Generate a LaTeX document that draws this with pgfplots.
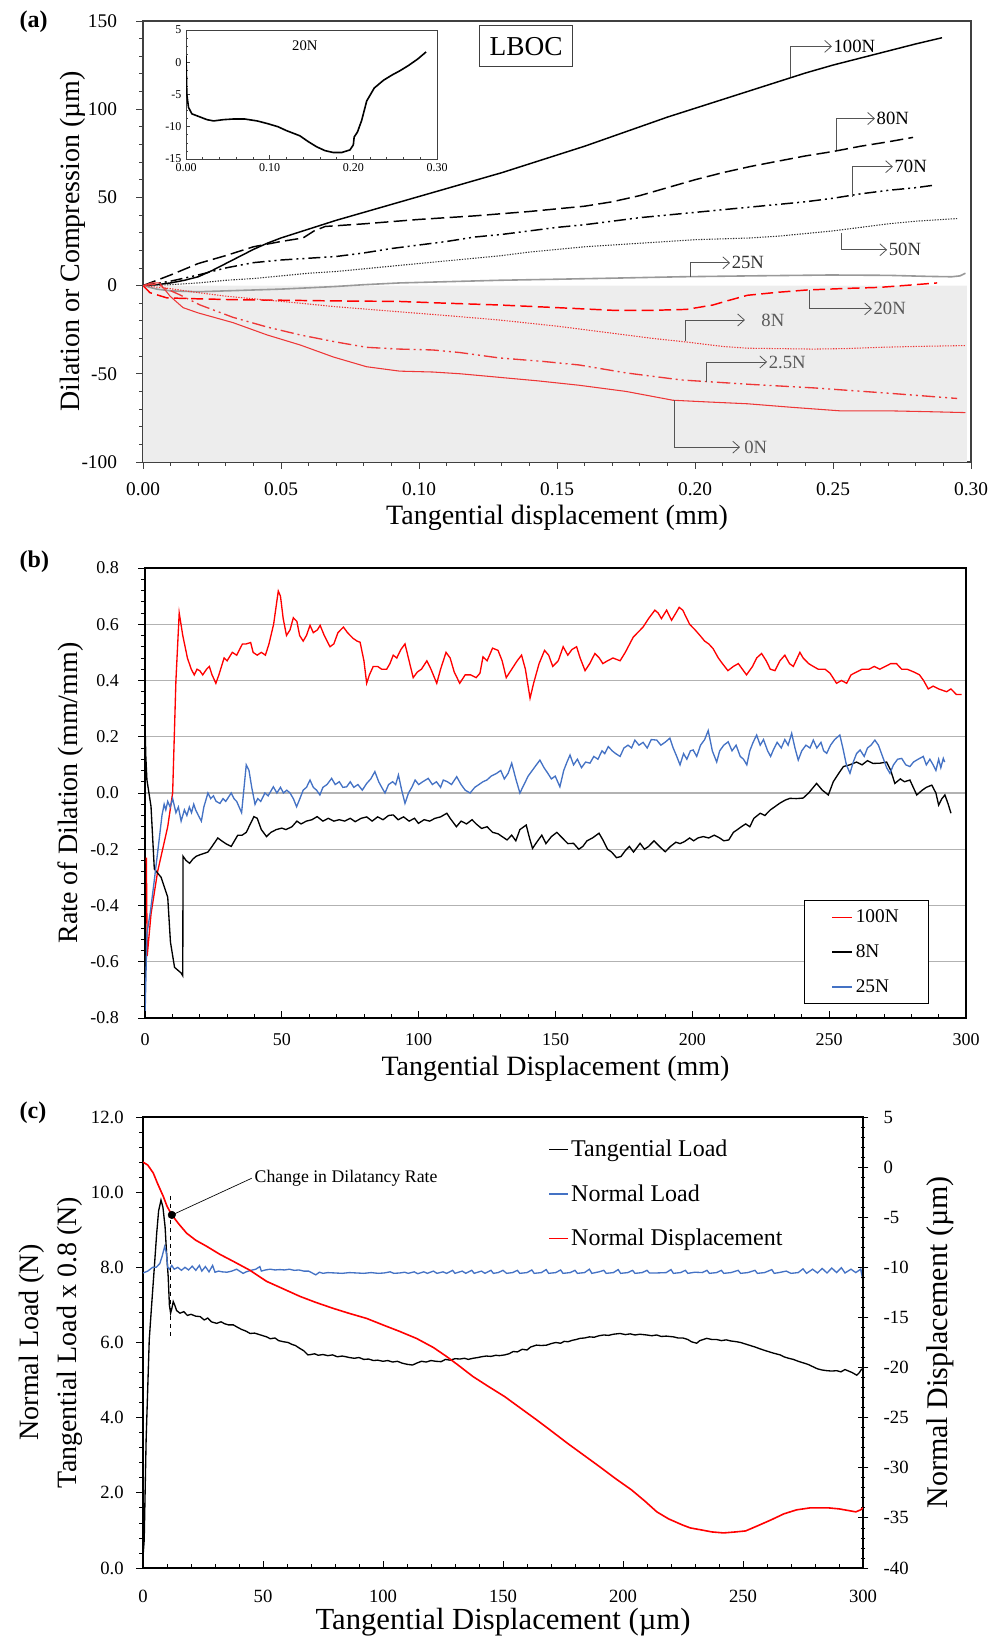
\documentclass[border=0pt]{standalone}
\usepackage{fontspec}
\setmainfont{Liberation Serif}
\usepackage{pgfplots}
\pgfplotsset{compat=1.18}
\usetikzlibrary{arrows.meta}
\definecolor{ared}{RGB}{238,55,55}
\definecolor{xblue}{RGB}{68,114,196}
\definecolor{annot}{RGB}{85,85,85}
\definecolor{shade}{RGB}{237,237,237}
\pgfkeys{/pgf/number format/assume math mode=true}
\tikzset{arr/.style={annot, line width=0.6pt, -{Straight Barb[length=5pt,width=9pt]}}}
\begin{document}
\begin{tikzpicture}
\useasboundingbox (0,0) rectangle (744pt,1230.75pt);
% ---------------- panel (a) ----------------
\begin{axis}[at={(107.25pt,884.25pt)}, anchor=south west, scale only axis,
  width=621pt, height=330.75pt,
  xmin=0, xmax=0.3, ymin=-100, ymax=150,
  xtick={0,0.05,0.1,0.15,0.2,0.25,0.3}, ytick={-100,-50,0,50,100,150},
  minor x tick num=4, minor y tick num=4,
  xtick pos=bottom, ytick pos=left, tick align=outside,
  major tick length=5pt, minor tick length=3pt,
  axis line style={line width=0.8pt, black!75},
  tick style={black!75, line width=0.6pt},
  scaled x ticks=false, scaled y ticks=false,
  x tick label style={/pgf/number format/.cd, fixed, fixed zerofill, precision=2, /tikz/.cd, font=\fontsize{14.5}{16}\selectfont, yshift=-7pt},
  y tick label style={font=\fontsize{14.5}{16}\selectfont, xshift=-11pt},
  xlabel={Tangential displacement (mm)}, ylabel={Dilation or Compression (µm)},
  label style={font=\fontsize{21}{24}\selectfont},
  xlabel style={at={(axis description cs:0.5,-0.127)}, anchor=center},
  ylabel style={at={(axis description cs:-0.0845,0.5)}, anchor=center},
]
\addplot[draw=none, fill=shade] coordinates {(0,0) (0.2985,0) (0.2985,-100) (0,-100) (0,0)};
% 100N
\addplot[black, line width=1.1pt] coordinates {(0,0)(0.005,0.5)(0.01,1.5)(0.015,3)(0.02,5)(0.025,8.5)(0.03,12.5)(0.035,16.5)(0.04,20.5)(0.045,24)(0.05,27)(0.055,29.5)(0.06,32)(0.07,37)(0.08,41.5)(0.09,46)(0.10,50.5)(0.11,55)(0.12,59.5)(0.13,64)(0.14,69)(0.15,74)(0.16,79)(0.17,84.5)(0.18,90)(0.19,95.5)(0.20,100.5)(0.21,105.5)(0.22,110.5)(0.23,115.5)(0.24,120.5)(0.25,125)(0.26,129)(0.27,133)(0.28,137)(0.2895,140.5)};
% 80N
\addplot[black, line width=1.1pt, dash pattern=on 10pt off 4pt] coordinates {(0,0)(0.005,3)(0.01,6)(0.02,12.5)(0.03,17)(0.04,22)(0.05,25)(0.056,26.5)(0.058,27)(0.062,31)(0.066,33.5)(0.08,35)(0.10,37.5)(0.12,39.5)(0.14,42)(0.16,45)(0.17,47.5)(0.18,51)(0.19,55.5)(0.20,60)(0.21,64)(0.22,67.5)(0.23,70.5)(0.24,73.5)(0.25,76)(0.26,79)(0.27,81.5)(0.279,84)};
% 70N
\addplot[black, line width=1.1pt, dash pattern=on 9pt off 3pt on 1.5pt off 3pt on 1.5pt off 3pt] coordinates {(0,0)(0.01,2.5)(0.02,6)(0.03,10)(0.04,13)(0.05,14.5)(0.06,15.5)(0.07,16.5)(0.08,18.5)(0.09,21)(0.10,23)(0.11,25)(0.12,27.5)(0.13,29)(0.14,31)(0.15,33)(0.16,34.5)(0.17,36.5)(0.18,38.5)(0.19,40)(0.20,41.5)(0.21,43)(0.22,44.5)(0.23,46)(0.24,47.5)(0.25,49.5)(0.26,52)(0.27,54)(0.28,55.5)(0.287,57)};
% 50N
\addplot[black!80, line width=0.8pt, dash pattern=on 1pt off 1pt] coordinates {(0,0)(0.01,0.5)(0.02,1.5)(0.03,3)(0.04,4)(0.05,5.5)(0.06,7)(0.07,8)(0.08,9.5)(0.09,11)(0.10,12.5)(0.11,14)(0.12,15.5)(0.13,17)(0.14,19)(0.15,20.5)(0.16,22)(0.17,23)(0.18,24)(0.19,25)(0.20,26)(0.21,26.5)(0.22,27)(0.23,28)(0.24,29.5)(0.25,31)(0.26,33)(0.27,35)(0.28,36.5)(0.295,38)};
% 25N
\addplot[black!40, line width=1.2pt] coordinates {(0,0)(0.005,-2)(0.01,-3)(0.02,-3.5)(0.03,-3)(0.04,-2.5)(0.05,-2)(0.057,-1.5)(0.07,-0.5)(0.08,0.5)(0.093,1.5)(0.11,2.2)(0.129,3)(0.15,3.6)(0.17,4.2)(0.195,5)(0.22,5.5)(0.249,6)(0.27,5.8)(0.285,5.2)(0.293,5)(0.296,5.5)(0.298,7)};
% 20N
\addplot[red, line width=1.1pt, dash pattern=on 9pt off 4pt] coordinates {(0,0)(0.0025,-4)(0.0087,-7)(0.02,-7.5)(0.033,-8)(0.05,-8.3)(0.07,-8.7)(0.093,-9)(0.11,-10)(0.129,-11)(0.15,-12.5)(0.17,-14)(0.185,-14)(0.197,-13.5)(0.2065,-11)(0.212,-8.5)(0.219,-5.5)(0.23,-3.8)(0.2405,-2.5)(0.255,-1.6)(0.267,-1)(0.278,0.3)(0.2877,1.5)};
% 8N
\addplot[ared, line width=0.8pt, dash pattern=on 1pt off 1pt] coordinates {(0,0)(0.0087,-1.5)(0.02,-4)(0.03,-6)(0.04,-7.5)(0.057,-10)(0.07,-12)(0.09,-14.5)(0.11,-17)(0.129,-19.5)(0.15,-23)(0.17,-27)(0.185,-30)(0.197,-32)(0.21,-34.5)(0.219,-35.5)(0.243,-36)(0.255,-35.7)(0.267,-35)(0.28,-34.5)(0.298,-34)};
% 2.5N
\addplot[ared, line width=1pt, dash pattern=on 10pt off 3pt on 1.5pt off 3pt on 1.5pt off 3pt] coordinates {(0,0)(0.005,1)(0.0087,-2)(0.013,-5)(0.0207,-11)(0.0326,-18)(0.045,-23.5)(0.057,-28)(0.07,-32)(0.081,-35)(0.093,-36)(0.105,-36.5)(0.115,-38)(0.129,-41)(0.145,-43)(0.158,-45)(0.175,-49.5)(0.195,-53.5)(0.22,-56)(0.243,-58)(0.27,-61)(0.295,-64)};
% 0N
\addplot[ared, line width=0.8pt] coordinates {(0,0)(0.003,1.5)(0.006,1.5)(0.0098,-6)(0.0145,-12.5)(0.02,-15.5)(0.0326,-21)(0.045,-28)(0.057,-33.7)(0.069,-40.5)(0.081,-46)(0.093,-48.5)(0.105,-49)(0.115,-50)(0.129,-52)(0.143,-54)(0.158,-56.5)(0.175,-60)(0.192,-65)(0.205,-66)(0.219,-67)(0.235,-69)(0.2525,-71)(0.27,-71)(0.285,-71.5)(0.298,-72)};
% annotations
\begin{scope}[font=\fontsize{14}{16}\selectfont]
\draw[arr] (axis cs:0.2344,118) -- (axis cs:0.2344,135.6) -- (axis cs:0.2496,135.6) node[right, inner sep=1pt, text=black] {100N};
\draw[arr] (axis cs:0.2511,77.1) -- (axis cs:0.2511,94.7) -- (axis cs:0.2652,94.7) node[right, inner sep=1pt, text=black] {80N};
\draw[arr] (axis cs:0.2569,50.4) -- (axis cs:0.2569,67.4) -- (axis cs:0.2717,67.4) node[right, inner sep=1pt, text=black] {70N};
\draw[arr] (axis cs:0.2529,29.9) -- (axis cs:0.2529,20.3) -- (axis cs:0.2696,20.3) node[right, inner sep=1pt, text=black!80] {50N};
\draw[arr] (axis cs:0.1982,4.9) -- (axis cs:0.1982,12.9) -- (axis cs:0.2127,12.9) node[right, inner sep=1pt, text=black!80] {25N};
\draw[arr] (axis cs:0.2413,-2.4) -- (axis cs:0.2413,-13.2) -- (axis cs:0.2641,-13.2) node[right, inner sep=1pt, text=black!65] {20N};
\draw[arr] (axis cs:0.1964,-31.4) -- (axis cs:0.1964,-19.5) -- (axis cs:0.2181,-19.5);
\node[right, inner sep=1pt, text=black!65] at (axis cs:0.2235,-19.5) {8N};
\draw[arr] (axis cs:0.2043,-54.7) -- (axis cs:0.2043,-43.3) -- (axis cs:0.2261,-43.3) node[right, inner sep=1pt, text=black!65] {2.5N};
\draw[arr] (axis cs:0.1924,-64.9) -- (axis cs:0.1924,-91.6) -- (axis cs:0.2163,-91.6) node[right, inner sep=3pt, text=black!65] {0N};
\end{scope}
\node[draw=black!75, line width=0.6pt, fill=white, minimum width=70pt, minimum height=30.75pt, font=\fontsize{20.5}{24}\selectfont] at (axis cs:0.1388,135.6) {LBOC};
\end{axis}
% inset
\begin{axis}[at={(139.5pt,1111.5pt)}, anchor=south west, scale only axis,
  width=188.25pt, height=96.75pt,
  xmin=0, xmax=0.3, ymin=-15, ymax=5,
  xtick={0,0.1,0.2,0.3}, ytick={-15,-10,-5,0,5},
  minor x tick num=4, minor y tick num=3,
  xtick pos=bottom, ytick pos=left, tick align=inside,
  major tick length=3pt, minor tick length=1.8pt,
  axis background/.style={fill=white},
  axis line style={line width=0.6pt, black!75},
  tick style={black!75, line width=0.5pt},
  scaled x ticks=false,
  x tick label style={/pgf/number format/.cd, fixed, fixed zerofill, precision=2, /tikz/.cd, font=\fontsize{9}{10}\selectfont},
  y tick label style={font=\fontsize{9}{10}\selectfont},
]
\addplot[black, line width=1.2pt] coordinates {(0,1)(0.001,-5)(0.003,-7)(0.007,-8)(0.015,-8.4)(0.025,-8.9)(0.033,-9.1)(0.045,-8.9)(0.057,-8.8)(0.07,-8.8)(0.085,-9.1)(0.097,-9.5)(0.11,-10)(0.12,-10.6)(0.136,-11.4)(0.146,-12.3)(0.156,-13.1)(0.166,-13.7)(0.176,-14)(0.186,-14)(0.196,-13.6)(0.2,-12.8)(0.201,-11.6)(0.205,-10.8)(0.21,-9)(0.216,-6)(0.225,-4)(0.236,-2.8)(0.246,-2)(0.256,-1.3)(0.266,-0.5)(0.277,0.5)(0.287,1.6)};
\node[font=\fontsize{11}{12}\selectfont] at (axis cs:0.142,2.6) {20N};
\end{axis}
% ---------------- panel (b) ----------------
\begin{axis}[at={(108.75pt,467.25pt)}, anchor=south west, scale only axis,
  width=615.75pt, height=337.5pt,
  xmin=0, xmax=300, ymin=-0.8, ymax=0.8,
  xtick=\empty, ytick={-0.8,-0.6,-0.4,-0.2,0,0.2,0.4,0.6,0.8},
  minor y tick num=4,
  ytick pos=left, tick align=outside,
  major tick length=5pt, minor tick length=3pt,
  ymajorgrids, grid style={black!30, line width=0.8pt},
  axis line style={line width=0.9pt, black},
  tick style={black, line width=0.6pt},
  scaled y ticks=false,
  y tick label style={/pgf/number format/.cd, fixed, fixed zerofill, precision=1, /tikz/.cd, font=\fontsize{13.5}{16}\selectfont, xshift=-11pt},
  xlabel={Tangential Displacement (mm)}, ylabel={Rate of Dilation (mm/mm)},
  label style={font=\fontsize{21}{25}\selectfont},
  xlabel style={at={(axis description cs:0.5,-0.113)}, anchor=center},
  ylabel style={at={(axis description cs:-0.090,0.5)}, anchor=center},
  legend style={at={(axis description cs:0.8027,0.262)}, anchor=north west, draw=black, line width=0.6pt, fill=white,
    font=\fontsize{14.5}{17}\selectfont, inner xsep=20.5pt, inner ysep=5pt, row sep=11pt},
  legend cell align=left,
  legend image code/.code={\draw[#1] (0pt,0pt) -- (15pt,0pt);},
]
\addplot[red, line width=1pt] coordinates {(0.5,-0.23)(0.8,-0.58)(2.2,-0.43)(4.6,-0.28)(8.3,-0.12)(10.1,0.0)(11.3,0.40)(12.5,0.64)(13.8,0.56)(15.5,0.48)(16.9,0.44)(18,0.42)(19,0.44)(20,0.435)(21.1,0.42)(22.5,0.44)(23.5,0.45)(24.5,0.42)(25.9,0.39)(27,0.42)(28.9,0.48)(30,0.47)(31.9,0.50)(33.5,0.49)(35.6,0.53)(37,0.53)(38.6,0.535)(39.5,0.50)(41,0.49)(42.5,0.50)(44,0.49)(45.3,0.53)(47,0.60)(48.7,0.718)(49.5,0.70)(50.5,0.62)(51.7,0.56)(53,0.58)(54.2,0.623)(55.5,0.61)(56.5,0.56)(57.8,0.54)(59,0.56)(60.3,0.596)(61.5,0.57)(63,0.58)(64,0.596)(65.5,0.56)(67.6,0.52)(69,0.53)(70.5,0.57)(72.5,0.59)(74,0.57)(76,0.55)(77.5,0.54)(78.6,0.536)(80,0.47)(81,0.39)(82,0.42)(83.4,0.45)(85,0.45)(86.5,0.44)(88.3,0.44)(89.5,0.46)(90.7,0.49)(92,0.48)(93.5,0.51)(95,0.53)(96.5,0.47)(98,0.41)(99.5,0.43)(101,0.44)(103,0.47)(104.5,0.44)(106.6,0.39)(108,0.44)(110,0.50)(111.5,0.48)(113,0.43)(115,0.39)(117,0.42)(119,0.42)(121,0.41)(122.4,0.426)(123.5,0.484)(125,0.47)(127,0.515)(129,0.507)(130.5,0.47)(132,0.41)(134,0.44)(136,0.47)(137.6,0.49)(139,0.44)(140.7,0.337)(142,0.39)(144,0.46)(146,0.507)(147.5,0.49)(149,0.45)(151,0.47)(152.8,0.52)(154.5,0.49)(156,0.51)(157.7,0.52)(159,0.48)(160.8,0.435)(162.5,0.46)(164.4,0.496)(166,0.48)(167.3,0.46)(169,0.47)(171,0.48)(173.6,0.47)(175.5,0.50)(178.4,0.554)(180,0.57)(182,0.59)(184,0.62)(186.3,0.65)(187.5,0.64)(188.7,0.62)(190.6,0.65)(192.4,0.614)(194,0.64)(195.2,0.66)(196.5,0.65)(199,0.60)(201,0.58)(202.8,0.56)(204.5,0.54)(206,0.53)(207.6,0.513)(209.5,0.48)(211,0.46)(213,0.435)(215,0.45)(216.8,0.46)(218.3,0.44)(219.8,0.42)(222,0.45)(223.5,0.48)(225.3,0.496)(227,0.47)(228.5,0.44)(230.2,0.435)(232,0.47)(233.8,0.49)(235.5,0.46)(236.9,0.45)(239.3,0.50)(240.5,0.48)(242.5,0.46)(244.2,0.45)(246,0.44)(248.5,0.44)(250.3,0.426)(252.7,0.39)(254.5,0.40)(256.4,0.39)(258,0.42)(260,0.43)(262,0.44)(264.5,0.44)(266.5,0.45)(268.5,0.44)(270.5,0.45)(272.5,0.46)(274.6,0.46)(276.5,0.44)(278.5,0.44)(281,0.43)(283,0.42)(284.5,0.40)(286.2,0.37)(288,0.38)(290,0.37)(292.9,0.36)(294.5,0.37)(296.5,0.35)(298.4,0.35)};
\addlegendentry{100N}
\addplot[black, line width=1pt] coordinates {(0,0.25)(0.3,0.13)(0.7,0.047)(2.2,-0.048)(3.4,-0.27)(5.9,-0.30)(8.3,-0.37)(9.3,-0.53)(10.8,-0.62)(13.2,-0.64)(13.8,-0.65)(13.9,-0.225)(15,-0.24)(16.3,-0.25)(17.5,-0.235)(18.7,-0.225)(20,-0.22)(21.5,-0.215)(23,-0.21)(24.5,-0.19)(26.6,-0.16)(28,-0.17)(29.5,-0.18)(31.5,-0.19)(32.7,-0.17)(33.9,-0.15)(35.5,-0.15)(37,-0.14)(38.5,-0.11)(39.8,-0.084)(41,-0.09)(42.5,-0.13)(44.4,-0.155)(46,-0.14)(48,-0.13)(50,-0.125)(51.5,-0.13)(53.7,-0.12)(55.5,-0.10)(57,-0.11)(59,-0.10)(61,-0.095)(62.9,-0.084)(65,-0.10)(67,-0.09)(69,-0.10)(71,-0.095)(73,-0.10)(75,-0.09)(76.8,-0.102)(79,-0.09)(81,-0.085)(83,-0.10)(85,-0.085)(87,-0.095)(89,-0.08)(90.7,-0.078)(92.5,-0.095)(94.5,-0.085)(96.5,-0.10)(98.5,-0.09)(99.9,-0.108)(102,-0.095)(104,-0.10)(106,-0.09)(108,-0.085)(110.3,-0.072)(111.5,-0.09)(113.8,-0.12)(115.5,-0.10)(117.5,-0.11)(119.5,-0.095)(121,-0.11)(123,-0.126)(125,-0.12)(127,-0.14)(129,-0.145)(130.5,-0.155)(132.3,-0.167)(134,-0.15)(135.5,-0.17)(137,-0.13)(139.3,-0.114)(140.5,-0.16)(141.6,-0.197)(143.5,-0.17)(145,-0.15)(146.5,-0.18)(148.5,-0.155)(150.5,-0.14)(152.5,-0.16)(154.5,-0.18)(156.6,-0.179)(158.5,-0.20)(160,-0.19)(161.5,-0.17)(163.5,-0.16)(165.9,-0.143)(167.5,-0.17)(169,-0.20)(170.5,-0.21)(172.3,-0.23)(173.9,-0.226)(175.5,-0.205)(177,-0.19)(178.5,-0.21)(180.9,-0.179)(182.5,-0.20)(184,-0.19)(186,-0.17)(188,-0.19)(190.1,-0.209)(192,-0.19)(194,-0.175)(195.5,-0.18)(197.1,-0.173)(199,-0.16)(200.5,-0.17)(202,-0.16)(204,-0.155)(206,-0.16)(208,-0.15)(210,-0.16)(211.5,-0.17)(213.3,-0.167)(215,-0.14)(216.5,-0.13)(217.9,-0.12)(219.5,-0.11)(221,-0.12)(222.5,-0.09)(224.8,-0.072)(226.5,-0.08)(228.5,-0.06)(230,-0.05)(232,-0.036)(234,-0.025)(235.7,-0.019)(238,-0.02)(240.5,-0.018)(242.5,0.00)(245.4,0.034)(247.5,0.01)(249.7,-0.007)(251.5,0.04)(253.5,0.07)(255.2,0.094)(257.5,0.10)(260,0.11)(262,0.10)(264,0.115)(266,0.105)(268.6,0.106)(271,0.11)(272.5,0.08)(274,0.034)(276,0.05)(277.5,0.04)(279.5,0.046)(282,-0.007)(284,0.01)(285.5,0.02)(287.5,0.028)(289,0.00)(290,-0.043)(291.2,-0.02)(292.3,-0.007)(293.5,-0.04)(294.5,-0.072)};
\addlegendentry{8N}
\addplot[xblue, line width=1pt] coordinates {(0,-0.80)(0.7,-0.50)(2,-0.42)(3.4,-0.31)(5,-0.18)(6.2,-0.08)(7,-0.04)(7.6,-0.06)(8.3,-0.03)(9.2,-0.05)(10.1,-0.02)(11.3,-0.07)(12.2,-0.05)(13.2,-0.10)(14.4,-0.06)(15.3,-0.08)(16.2,-0.05)(17,-0.07)(17.8,-0.04)(18.5,-0.06)(19.5,-0.08)(20.6,-0.10)(21.5,-0.05)(23,0.00)(24,-0.02)(25,-0.01)(26,-0.03)(27.4,-0.037)(28.5,-0.02)(29.5,-0.03)(31.5,0.00)(32.5,-0.02)(33.5,-0.03)(35.3,-0.07)(36.2,0.02)(37,0.10)(38,0.08)(39,0.02)(40.2,-0.04)(41.2,-0.02)(42.3,-0.03)(43.8,0.00)(45,-0.01)(46.9,0.022)(48.2,0.00)(49.5,0.02)(50.6,0.00)(51.8,0.01)(53,0.00)(54.2,-0.02)(55.4,-0.049)(56.6,-0.02)(57.8,0.01)(59,0.02)(60.3,0.046)(61.5,0.02)(62.7,0.01)(63.9,-0.007)(65,0.02)(66.5,0.03)(68.2,0.052)(69.5,0.03)(71,0.04)(72.3,0.02)(73.7,0.022)(75,0.04)(76.3,0.02)(77.8,0.03)(79.4,0.01)(81,0.034)(82.5,0.05)(84,0.076)(85.4,0.04)(86.5,0.02)(87.7,0.00)(89,0.03)(90.5,0.04)(91.6,0.03)(92.6,0.064)(93.8,0.01)(95,-0.037)(96.3,0.00)(97.5,0.02)(98.7,0.046)(100,0.03)(101.5,0.04)(103.5,0.052)(105,0.03)(106.5,0.04)(108,0.02)(109,0.046)(110.5,0.04)(112,0.03)(113.9,0.058)(115.5,0.03)(117,0.01)(118.8,0.00)(120.5,0.02)(122,0.03)(123.5,0.04)(124.9,0.046)(126.5,0.06)(128.5,0.07)(130,0.08)(131.3,0.05)(132.7,0.07)(134,0.106)(135.5,0.05)(137,0.00)(138.5,0.03)(140,0.06)(141.5,0.08)(143,0.10)(144.3,0.117)(145.8,0.09)(147.2,0.07)(148.5,0.05)(149.9,0.06)(151.6,0.022)(153,0.08)(154.2,0.11)(155.3,0.135)(156.6,0.10)(158,0.12)(159.5,0.09)(161,0.11)(162.6,0.106)(164,0.13)(165.5,0.12)(167,0.15)(168,0.14)(169.3,0.165)(170.7,0.15)(172,0.14)(173.6,0.13)(175,0.16)(176.5,0.17)(177.8,0.16)(179,0.188)(180.5,0.17)(182,0.18)(183.5,0.16)(185,0.19)(187,0.188)(188.5,0.17)(190,0.18)(191.8,0.195)(193,0.16)(194.3,0.13)(195.5,0.10)(196.8,0.14)(198,0.12)(199.3,0.15)(200.3,0.153)(201.6,0.13)(203,0.17)(204.5,0.19)(205.8,0.222)(207.3,0.15)(208.9,0.11)(210,0.15)(211.5,0.17)(213.1,0.182)(214.5,0.15)(216,0.17)(217.5,0.13)(218.7,0.12)(219.9,0.10)(221,0.15)(222.2,0.18)(223.5,0.206)(224.8,0.17)(226,0.19)(227.5,0.15)(228.6,0.13)(229.6,0.153)(231,0.18)(232.5,0.16)(233.8,0.19)(235,0.17)(236.3,0.212)(237.5,0.16)(238.7,0.117)(240,0.15)(241.5,0.17)(243,0.16)(244.2,0.188)(245.5,0.16)(247,0.18)(248,0.15)(249.1,0.141)(250.5,0.17)(252,0.19)(253.9,0.206)(255,0.16)(256.3,0.10)(257.6,0.07)(258.8,0.11)(260,0.14)(261.3,0.153)(262.8,0.13)(264,0.16)(265.3,0.17)(266.7,0.188)(268,0.17)(269.5,0.13)(271,0.09)(272.2,0.07)(273.5,0.10)(275,0.12)(276.5,0.123)(278,0.10)(279.5,0.094)(280.8,0.11)(282.5,0.12)(284.4,0.13)(285.5,0.10)(286.8,0.12)(288,0.10)(289,0.08)(290,0.12)(290.8,0.09)(291.7,0.123)(292.2,0.11)};
\addlegendentry{25N}
\end{axis}
% (b) x axis with inward ticks
\begin{axis}[at={(108.75pt,467.25pt)}, anchor=south west, scale only axis,
  width=615.75pt, height=337.5pt,
  xmin=0, xmax=300, ymin=-0.8, ymax=0.8,
  axis y line=none, axis x line*=bottom,
  xtick={0,50,100,150,200,250,300}, minor x tick num=4,
  tick align=inside, major tick length=5pt, minor tick length=3pt,
  axis line style={line width=0.9pt, black},
  tick style={black, line width=0.6pt},
  x tick label style={font=\fontsize{13.5}{16}\selectfont, yshift=-8pt},
]
\end{axis}
% ---------------- panel (c) ----------------
\begin{axis}[at={(107.25pt,54.75pt)}, anchor=south west, scale only axis,
  width=540pt, height=338.25pt,
  xmin=0, xmax=300, ymin=0, ymax=12,
  xtick=\empty, ytick={0,2,4,6,8,10,12},
  minor y tick num=4,
  ytick pos=left, tick align=outside,
  major tick length=5pt, minor tick length=3pt,
  axis line style={line width=0.9pt, black},
  tick style={black, line width=0.6pt},
  scaled y ticks=false,
  y tick label style={/pgf/number format/.cd, fixed, fixed zerofill, precision=1, /tikz/.cd, font=\fontsize{14}{16}\selectfont, xshift=-6pt},
  xlabel={Tangential Displacement (µm)}, ylabel={Normal Load (N)\\Tangential Load x 0.8 (N)},
  xlabel style={font=\fontsize{23}{27}\selectfont, at={(axis description cs:0.5,-0.12)}, anchor=center},
  ylabel style={font=\fontsize{21}{29}\selectfont, align=center, at={(axis description cs:-0.128,0.5)}, anchor=center},
]
\addplot[black, line width=1pt] coordinates {(0,0.3)(0.5,0.74)(1.3,3.4)(2.6,6.07)(3.6,7.0)(4.5,7.8)(5.7,8.9)(6.5,9.5)(7.5,9.79)(8.3,9.6)(9.2,9.08)(9.8,8.4)(10.5,7.75)(11.0,7.0)(11.5,6.78)(12.0,6.9)(12.6,7.09)(13.2,7.0)(14,6.85)(15.4,6.78)(17,6.82)(18.5,6.72)(20,6.75)(22,6.7)(23.8,6.69)(25.5,6.6)(27,6.65)(28.5,6.55)(30.7,6.51)(32.5,6.55)(34,6.5)(35.5,6.47)(37.6,6.47)(39.5,6.40)(41,6.35)(43,6.30)(44.6,6.24)(46.5,6.25)(48,6.22)(50,6.18)(51.5,6.15)(53,6.10)(55,6.12)(56.5,6.05)(58.5,6.02)(60.5,6.0)(62,5.95)(63.5,5.92)(65.4,5.84)(67,5.78)(68.7,5.67)(70,5.68)(71.5,5.70)(73,5.66)(75,5.68)(77,5.65)(79,5.67)(81,5.62)(83,5.64)(84.6,5.62)(86,5.60)(88,5.58)(90,5.60)(92,5.55)(94,5.56)(96,5.52)(97.8,5.53)(100,5.50)(102,5.52)(104,5.48)(106,5.50)(108,5.45)(110,5.42)(112.3,5.40)(114,5.45)(116,5.50)(118,5.48)(120,5.52)(122,5.50)(124.2,5.49)(126,5.55)(128,5.53)(130,5.57)(132,5.56)(134,5.58)(135.5,5.55)(137.5,5.58)(139.5,5.60)(141,5.62)(143,5.64)(145,5.63)(147,5.66)(148.5,5.65)(150.7,5.67)(152.5,5.70)(154.3,5.76)(156,5.75)(158,5.82)(160,5.80)(161.5,5.88)(163.9,5.93)(166,5.92)(168.2,5.93)(170,5.97)(172,6.00)(174,5.98)(175.5,6.03)(177.1,6.02)(179,6.06)(180.5,6.08)(182.1,6.11)(184,6.12)(186,6.15)(188,6.14)(190,6.18)(192,6.20)(194,6.19)(196,6.22)(198.8,6.24)(201,6.21)(203,6.23)(205,6.20)(207,6.22)(209.9,6.2)(212,6.18)(214,6.20)(216,6.16)(218,6.17)(221,6.15)(223,6.12)(225,6.12)(227,6.08)(228.5,6.02)(230.7,5.98)(232,6.05)(234.9,6.11)(237,6.08)(239,6.08)(241,6.05)(243,6.07)(245,6.04)(247.4,6.02)(249,6.0)(251,5.96)(253,5.92)(255,5.88)(256.7,5.84)(258.5,5.8)(260.5,5.76)(262.5,5.72)(265.5,5.67)(267,5.62)(269,5.58)(271,5.55)(273,5.50)(275,5.46)(277,5.42)(279,5.36)(281,5.30)(282.8,5.27)(285,5.25)(287,5.24)(289,5.25)(290.8,5.22)(292.5,5.28)(294,5.24)(295.5,5.20)(297.4,5.13)(298.5,5.20)(299.5,5.30)};
\addplot[xblue, line width=1pt] coordinates {(0,7.85)(2,7.9)(4,8.0)(5.5,8.0)(7,8.1)(8,8.3)(9,8.55)(9.7,8.4)(10.3,8.0)(11,7.95)(12,8.05)(13,7.95)(14.5,8.0)(16,7.92)(17.5,8.0)(19,7.93)(20.5,8.03)(22,7.92)(23.5,8.05)(24.5,7.9)(26,8.02)(27.5,7.88)(29,8.05)(30,7.87)(31.5,7.9)(33,7.88)(35,7.87)(37,7.9)(39,7.95)(41.7,7.84)(43,7.88)(45,7.92)(47,7.95)(48.7,8.02)(49.3,7.9)(51,7.93)(53,7.95)(55,7.93)(57,7.94)(59,7.93)(61,7.95)(63,7.92)(65,7.93)(67,7.9)(69,7.9)(70.5,7.85)(72,7.8)(73.5,7.87)(75,7.84)(77,7.86)(80,7.85)(83,7.84)(86,7.86)(89,7.85)(92,7.84)(95,7.86)(98,7.84)(100.5,7.85)(103,7.88)(104.5,7.84)(107,7.85)(109,7.87)(110.5,7.84)(113,7.88)(114.5,7.83)(117,7.88)(118.5,7.84)(121,7.9)(122.5,7.84)(125,7.88)(126.5,7.84)(129,7.92)(130,7.84)(133,7.9)(134.5,7.84)(137,7.92)(138,7.84)(141,7.9)(142.5,7.84)(145,7.92)(146,7.84)(148,7.86)(150,7.92)(151.5,7.84)(154,7.86)(156,7.92)(157,7.84)(160,7.86)(162,7.93)(163,7.84)(166,7.86)(168,7.94)(169,7.84)(172,7.86)(174,7.93)(175,7.84)(178,7.86)(180,7.92)(181,7.84)(184,7.86)(186,7.95)(187,7.84)(190,7.88)(192,7.92)(193,7.84)(196,7.86)(198,7.94)(199,7.84)(202,7.86)(204,7.92)(205,7.84)(208,7.86)(210,7.92)(211,7.85)(214,7.85)(218,7.86)(220,7.94)(221,7.84)(224,7.86)(226,7.92)(227,7.84)(230,7.87)(233,7.86)(235,7.92)(236,7.84)(239,7.86)(241,7.92)(242,7.84)(245,7.86)(248,7.92)(249,7.84)(252,7.86)(255,7.92)(256,7.84)(259,7.86)(262,7.94)(263,7.84)(265,7.86)(268,7.9)(270,7.84)(273,7.86)(275,7.96)(276.5,7.84)(279,7.95)(281,7.85)(283,7.97)(285,7.85)(287,7.98)(289,7.86)(291,7.99)(292.5,7.85)(295,7.95)(297,7.86)(299,7.95)(299.5,7.8)(300,8.05)};
\draw[dashed, line width=0.8pt] (axis cs:11.5,9.9) -- (axis cs:11.5,6.15);
\draw[line width=0.5pt] (axis cs:12,9.39) -- (axis cs:45.3,10.37) node[right, inner sep=2pt, font=\fontsize{13.3}{15}\selectfont] {Change in Dilatancy Rate};
\end{axis}
% (c) x axis with inward ticks
\begin{axis}[at={(107.25pt,54.75pt)}, anchor=south west, scale only axis,
  width=540pt, height=338.25pt,
  xmin=0, xmax=300, ymin=0, ymax=12,
  axis y line=none, axis x line*=bottom,
  xtick={0,50,100,150,200,250,300}, minor x tick num=4,
  tick align=inside, major tick length=5pt, minor tick length=3pt,
  axis line style={line width=0.9pt, black},
  tick style={black, line width=0.6pt},
  x tick label style={font=\fontsize{14}{16}\selectfont, yshift=-13pt},
]
\end{axis}
% (c) right axis
\begin{axis}[at={(107.25pt,54.75pt)}, anchor=south west, scale only axis,
  width=540pt, height=338.25pt,
  xmin=0, xmax=300, ymin=-40, ymax=5,
  axis x line=none, axis y line*=right,
  ytick={-40,-35,-30,-25,-20,-15,-10,-5,0,5}, minor y tick num=4,
  tick align=center, major tick length=8pt, minor tick length=3pt,
  axis line style={line width=0.9pt, black},
  tick style={black, line width=0.6pt},
  y tick label style={font=\fontsize{14}{16}\selectfont, xshift=8pt},
  ylabel={Normal Displacement (µm)},
  ylabel style={font=\fontsize{22.5}{27}\selectfont, at={(axis description cs:1.107,0.5)}, anchor=center},
  legend style={at={(axis description cs:0.5625,0.955)}, anchor=north west, draw=none, fill=none,
    font=\fontsize{18}{21}\selectfont, inner xsep=0pt, inner ysep=0pt, row sep=15.4pt},
  legend cell align=left,
  legend image code/.code={\draw[#1] (0pt,0pt) -- (14pt,0pt);},
]
\addlegendimage{black, line width=1pt}
\addlegendentry{Tangential Load}
\addlegendimage{xblue, line width=1pt}
\addlegendentry{Normal Load}
\addplot[red, line width=1.2pt] coordinates {(0,0.5)(2,0.2)(4.3,-0.6)(6,-1.6)(8.5,-2.95)(10,-3.9)(12,-4.77)(15,-5.7)(18.2,-6.6)(22,-7.3)(26.5,-7.9)(32,-8.7)(37.6,-9.4)(44.6,-10.3)(51.5,-11.4)(58,-12.1)(65.4,-12.9)(72,-13.5)(79.3,-14.1)(86,-14.6)(93.2,-15.1)(100,-15.75)(107,-16.4)(114,-17.1)(121,-18.0)(126.5,-18.9)(131,-19.7)(137.5,-20.9)(144,-21.9)(150.7,-22.9)(157,-24.0)(163.9,-25.2)(170,-26.3)(177.1,-27.6)(184,-28.8)(190.3,-29.9)(197,-31.1)(203.5,-32.2)(209,-33.3)(214.1,-34.4)(219,-35.1)(224.7,-35.7)(228,-36.0)(232.6,-36.2)(237,-36.4)(241.9,-36.5)(247,-36.4)(251.1,-36.3)(256,-35.8)(261.7,-35.2)(267,-34.6)(272.3,-34.2)(278,-34.0)(285.5,-34.0)(290,-34.1)(294.7,-34.3)(297,-34.4)(299,-34.2)(300,-34.0)};
\addlegendentry{Normal Displacement}
\addplot[only marks, mark=*, mark size=2.8pt, black, forget plot] coordinates {(12,-4.77)};
\end{axis}
% panel letters
\node[anchor=west, font=\bfseries\fontsize{18}{20}\selectfont] at (11.25pt,1214.25pt) {(a)};
\node[anchor=west, font=\bfseries\fontsize{18}{20}\selectfont] at (11.25pt,809.25pt) {(b)};
\node[anchor=west, font=\bfseries\fontsize{18}{20}\selectfont] at (11.25pt,396pt) {(c)};
\end{tikzpicture}
\end{document}
